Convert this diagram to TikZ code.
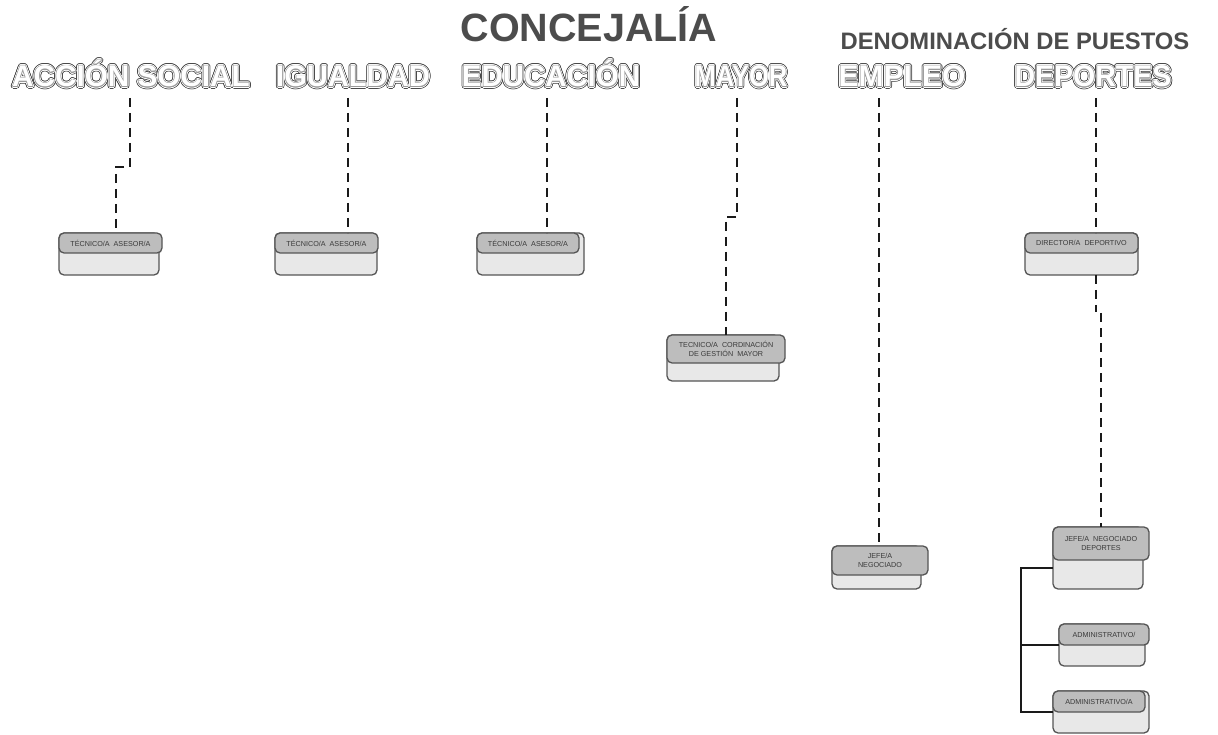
\documentclass[tikz,border=0pt]{standalone}
\usepackage{fontspec}
\setmainfont{Liberation Sans}
\usepackage{graphicx}
\usepackage{contour}
\definecolor{hdrfill}{HTML}{BDBDBD}
\definecolor{bodyfill}{HTML}{E8E8E8}
\definecolor{boxline}{HTML}{555555}
\definecolor{boxtext}{HTML}{3A3A3A}
\definecolor{titlegray}{HTML}{4C4C4C}
\definecolor{outerg}{HTML}{4A4A4A}
\definecolor{innerg}{HTML}{9A9A9A}
\definecolor{linecol}{HTML}{1A1A1A}
\newcommand\outl[1]{%
  \rlap{\contourlength{2.1pt}\contournumber{20}\contour{outerg}{#1}}%
  \rlap{\contourlength{1.2pt}\contournumber{16}\contour{white}{\textcolor{white}{#1}}}%
  \contourlength{0.5pt}\contournumber{12}\contour{innerg}{\textcolor{white}{#1}}}
\newcommand\puesto[8]{%
  \node[bodybox, minimum width={#4-#2}, minimum height={#7-#5}, anchor=north west] (#1b) at (#2,#5) {};
  \node[hdrbox, minimum width={#3-#2}, minimum height={#6-#5}, anchor=north west] (#1) at (#2,#5) {#8};}
\begin{document}
\begin{tikzpicture}[x=1pt,y=-1pt,
  bodybox/.style={draw=boxline, line width=1.3pt, fill=bodyfill, rounded corners=5pt, inner sep=0pt, outer sep=0pt},
  hdrbox/.style={draw=boxline, line width=1.3pt, fill=hdrfill, rounded corners=5pt, inner sep=0pt, outer sep=0pt,
     text=boxtext, align=center, font=\fontsize{7.2}{8.4}\selectfont},
  dashline/.style={draw=linecol, line width=2pt, dash pattern=on 9pt off 6pt},
  solidline/.style={draw=linecol, line width=2pt},
  subt/.style={anchor=base, inner sep=0pt, font=\fontsize{30}{30}\selectfont\bfseries},
]
\useasboundingbox[fill=white] (0,0) rectangle (1218,735);

% titles
\node[anchor=base, inner sep=0pt, text=titlegray, font=\fontsize{39.5}{40}\selectfont\bfseries] (title) at (589,42) {CONCEJALÍA};
\node[anchor=base, inner sep=0pt, text=titlegray, font=\fontsize{23.8}{24}\selectfont\bfseries] (denom) at (1015,50) {DENOMINACIÓN DE PUESTOS};

% subtitles
\node[subt] (t1) at (131,87) {\scalebox{0.99}[1]{\outl{ACCIÓN SOCIAL}}};
\node[subt] (t2) at (353,87) {\scalebox{0.97}[1]{\outl{IGUALDAD}}};
\node[subt] (t3) at (551,87) {\scalebox{0.98}[1]{\outl{EDUCACIÓN}}};
\node[subt] (t4) at (741,87) {\scalebox{0.85}[1]{\outl{MAYOR}}};
\node[subt] (t5) at (902,87) {\scalebox{1.0}[1]{\outl{EMPLEO}}};
\node[subt] (t6) at (1093,87) {\scalebox{0.95}[1]{\outl{DEPORTES}}};

% boxes
\puesto{b1}{59}{162}{159}{233}{253}{275}{TÉCNICO/A\ \ ASESOR/A}
\puesto{b2}{275}{378}{377}{233}{253}{275}{TÉCNICO/A\ \ ASESOR/A}
\puesto{b3}{477}{579}{584}{233}{253}{275}{TÉCNICO/A\ \ ASESOR/A}
\puesto{b4}{667}{785}{779}{335}{363}{381}{TECNICO/A\ \ CORDINACIÓN\\DE GESTIÓN\ \ MAYOR}
\puesto{b5}{832}{928}{921}{546}{575}{589}{JEFE/A\\NEGOCIADO}
\puesto{b6}{1025}{1138}{1138}{233}{253}{275}{DIRECTOR/A\ \ DEPORTIVO}
\puesto{b7}{1053}{1149}{1143}{527}{560}{589}{JEFE/A\ \ NEGOCIADO\\DEPORTES}
\puesto{b8}{1059}{1149}{1145}{624}{645}{666}{ADMINISTRATIVO/}
\puesto{b9}{1053}{1145}{1149}{691}{712}{733}{ADMINISTRATIVO/A}

% connector coordinates
\coordinate (s1) at (130,98);  \coordinate (j1a) at (130,167); \coordinate (j1b) at (116,167); \coordinate (e1) at (116,233);
\coordinate (s2) at (348,98);  \coordinate (e2) at (348,233);
\coordinate (s3) at (547,98);  \coordinate (e3) at (547,233);
\coordinate (s4) at (737,98);  \coordinate (j4a) at (737,217); \coordinate (j4b) at (726,217); \coordinate (e4) at (726,335);
\coordinate (s5) at (879,98);  \coordinate (e5) at (879,546);
\coordinate (s6) at (1096,98); \coordinate (e6) at (1096,233);
\coordinate (d6) at (1096,275); \coordinate (j6a) at (1096,312); \coordinate (j6b) at (1101,313); \coordinate (e7) at (1101,527);
\coordinate (k0) at (1021,568); \coordinate (k1) at (1021,645); \coordinate (k2) at (1021,712);
\coordinate (w7) at (1053,568); \coordinate (w8) at (1059,645); \coordinate (w9) at (1053,712);

\draw[dashline] (s1) -- (j1a) -- (j1b) -- (e1);
\draw[dashline] (s2) -- (e2);
\draw[dashline] (s3) -- (e3);
\draw[dashline] (s4) -- (j4a) -- (j4b) -- (e4);
\draw[dashline] (s5) -- (e5);
\draw[dashline] (s6) -- (e6);
\draw[dashline] (d6) -- (j6a);
\draw[dashline] (j6b) -- (e7);
\draw[solidline] (w7) -- (k0) -- (k2) -- (w9);
\draw[solidline] (k1) -- (w8);
\end{tikzpicture}
\end{document}
